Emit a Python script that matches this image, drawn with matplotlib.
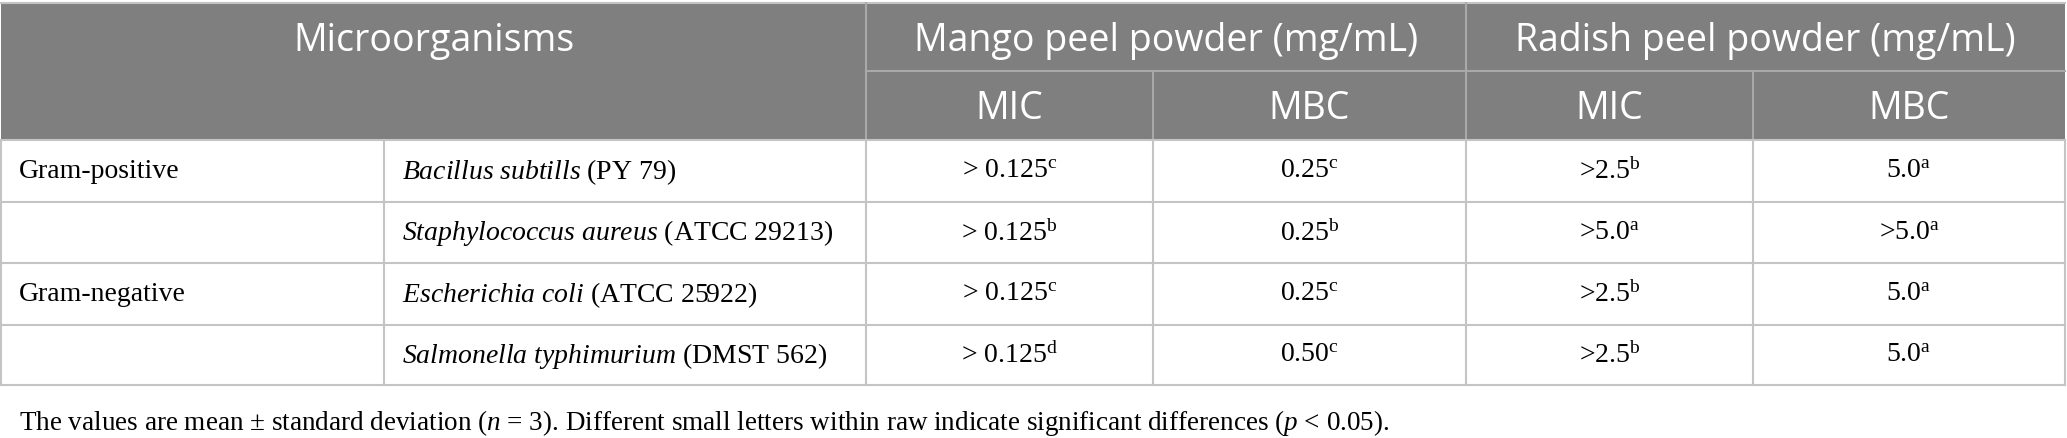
import matplotlib
matplotlib.use("Agg")
import matplotlib.pyplot as plt
from matplotlib.patches import Rectangle

plt.rcParams['mathtext.fontset'] = 'custom'
plt.rcParams['mathtext.rm'] = 'Liberation Serif'
plt.rcParams['mathtext.it'] = 'Liberation Serif:italic'

# ---- data ----
header_left = "Microorganisms"
powders = ["Mango peel powder (mg/mL)", "Radish peel powder (mg/mL)"]
measures = ["MIC", "MBC"]
groups = ["Gram-positive", "", "Gram-negative", ""]
species = ["Bacillus subtills", "Staphylococcus aureus", "Escherichia coli", "Salmonella typhimurium"]
strains = ["(PY 79)", "(ATCC 29213)", "(ATCC 25922)", "(DMST 562)"]
mango_mic = ["> 0.125", "> 0.125", "> 0.125", "> 0.125"]
mango_mic_sig = ["c", "b", "c", "d"]
mango_mbc = ["0.25", "0.25", "0.25", "0.50"]
mango_mbc_sig = ["c", "b", "c", "c"]
radish_mic = [">2.5", ">5.0", ">2.5", ">2.5"]
radish_mic_sig = ["b", "a", "b", "b"]
radish_mbc = ["5.0", ">5.0", "5.0", "5.0"]
radish_mbc_sig = ["a", "a", "a", "a"]
footnote = (r"The values are mean ± standard deviation ($\mathit{n}$ = 3). Different small letters "
            r"within raw indicate significant differences ($\mathit{p}$ < 0.05).")

W, H = 2067, 439
fig = plt.figure(figsize=(W / 100, H / 100), dpi=100)
ax = fig.add_axes([0, 0, 1, 1])
ax.set_xlim(0, W)
ax.set_ylim(H, 0)
ax.axis('off')

# geometry
xs = [1, 384, 866, 1153, 1466, 1753, 2065]
top, hmid, hbot = 4, 72, 141
rows = [141, 203, 264, 326, 386]
hdr_col = '#7f7f7f'
hdr_line = '#a9a9a9'
grid = '#c4c4c4'

ax.add_patch(Rectangle((xs[0], top), xs[-1] - xs[0], hbot - top, facecolor=hdr_col, edgecolor='none'))
# header lines
ax.plot([xs[0], xs[-1]], [top, top], color=grid, lw=1.5)
ax.plot([xs[2], xs[-1]], [hmid, hmid], color=hdr_line, lw=1.5)
ax.plot([xs[2], xs[2]], [top, hbot], color=hdr_line, lw=1.5)
ax.plot([xs[4], xs[4]], [top, hbot], color=hdr_line, lw=1.5)
ax.plot([xs[3], xs[3]], [hmid, hbot], color=hdr_line, lw=1.5)
ax.plot([xs[5], xs[5]], [hmid, hbot], color=hdr_line, lw=1.5)
# body grid
for y in rows:
    ax.plot([xs[0], xs[-1]], [y, y], color=grid, lw=1.5)
for x in xs:
    ax.plot([x, x], [rows[0], rows[-1]], color=grid, lw=1.5)

hfs = 27
ax.text((xs[0] + xs[2]) / 2, 41, header_left, color='white', fontsize=hfs,
        family='Open Sans', ha='center', va='center')
for i, p in enumerate(powders):
    ax.text((xs[2 + 2 * i] + xs[4 + 2 * i]) / 2, 41, p, color='white', fontsize=hfs,
            family='Open Sans', ha='center', va='center')
for i in range(2):
    for j, m in enumerate(measures):
        k = 2 + 2 * i + j
        ax.text((xs[k] + xs[k + 1]) / 2, 109, m, color='white', fontsize=hfs,
                family='Open Sans', ha='center', va='center')

bfs = 20
for r in range(4):
    yc = (rows[r] + rows[r + 1]) / 2
    if groups[r]:
        ax.text(19, yc, groups[r], fontsize=bfs, family='Liberation Serif', ha='left', va='center')
    sp = species[r].replace(' ', r'\ ')
    ax.text(402, yc, r"$\mathit{" + sp + "}$ " + strains[r], fontsize=bfs,
            family='Liberation Serif', ha='left', va='center')
    cols = [(mango_mic, mango_mic_sig), (mango_mbc, mango_mbc_sig),
            (radish_mic, radish_mic_sig), (radish_mbc, radish_mbc_sig)]
    for c, (vals, sig) in enumerate(cols):
        ax.text((xs[2 + c] + xs[3 + c]) / 2, yc, vals[r] + r"$^{\mathrm{" + sig[r] + "}}$",
                fontsize=bfs, family='Liberation Serif', ha='center', va='center')

ax.text(19, 423, footnote, fontsize=19.5, family='Liberation Serif', ha='left', va='center')

fig.savefig('out.png', dpi=100)
